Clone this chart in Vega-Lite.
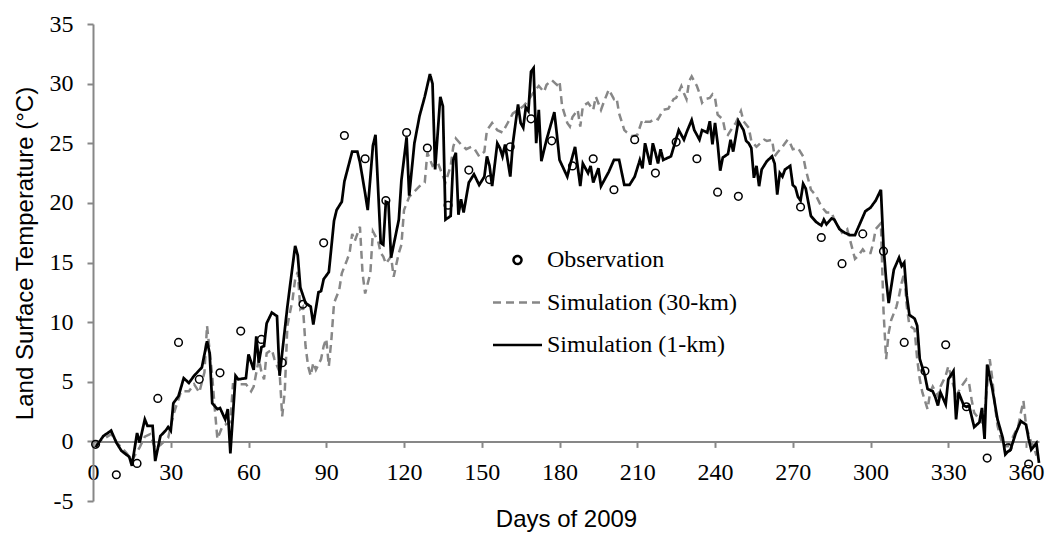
{
"$schema": "https://vega.github.io/schema/vega-lite/v6.json",
"width": 946, "height": 477,
"autosize": {"type": "none"},
"padding": {"left": 93, "top": 24, "right": 8, "bottom": 32},
"background": "white",
"config": {"view": {"stroke": null},
  "legend": {"orient": "none", "legendX": 398.5, "legendY": 224, "title": null, "padding": 0,
       "labelFont": "Liberation Serif", "labelFontSize": 24, "labelColor": "black", "labelOffset": 3.5, "labelLimit": 0,
       "symbolSize": 2401, "symbolStrokeWidth": 2.5, "symbolFillColor": "transparent", "clipHeight": 24, "rowPadding": 18.5}},
"datasets": {
"obs": [{"d":1,"t":-0.25},{"d":9,"t":-2.8},{"d":17,"t":-1.85},{"d":25,"t":3.6},{"d":33,"t":8.3},{"d":41,"t":5.2},{"d":49,"t":5.75},{"d":57,"t":9.25},{"d":65,"t":8.55},{"d":73,"t":6.6},{"d":81,"t":11.5},{"d":89,"t":16.65},{"d":97,"t":25.65},{"d":105,"t":23.7},{"d":113,"t":20.2},{"d":121,"t":25.9},{"d":129,"t":24.6},{"d":137,"t":19.8},{"d":145,"t":22.75},{"d":153,"t":21.95},{"d":161,"t":24.7},{"d":169,"t":27.05},{"d":177,"t":25.2},{"d":185,"t":23.1},{"d":193,"t":23.7},{"d":201,"t":21.1},{"d":209,"t":25.3},{"d":217,"t":22.5},{"d":225,"t":25.1},{"d":233,"t":23.7},{"d":241,"t":20.9},{"d":249,"t":20.55},{"d":273,"t":19.65},{"d":281,"t":17.1},{"d":289,"t":14.9},{"d":297,"t":17.4},{"d":305,"t":15.95},{"d":313,"t":8.3},{"d":321,"t":5.9},{"d":329,"t":8.1},{"d":337,"t":2.9},{"d":345,"t":-1.4},{"d":353,"t":-0.55},{"d":361,"t":-1.9}],
"km30": [{"d":1,"t":-0.3},{"d":4,"t":0.2},{"d":7,"t":0.6},{"d":10,"t":-0.3},{"d":13,"t":-1.0},{"d":15,"t":-1.6},{"d":18,"t":-0.5},{"d":20,"t":0.4},{"d":22,"t":0.6},{"d":24,"t":-0.6},{"d":26,"t":-0.3},{"d":28,"t":0.1},{"d":29,"t":0.3},{"d":31,"t":2.2},{"d":32,"t":2.9},{"d":34,"t":4.2},{"d":37,"t":4.2},{"d":39,"t":4.8},{"d":41,"t":4.1},{"d":43,"t":5.8},{"d":44,"t":9.7},{"d":46,"t":5.5},{"d":47,"t":2.7},{"d":48,"t":0.2},{"d":50,"t":1.3},{"d":53,"t":1.6},{"d":54,"t":4.8},{"d":57,"t":4.8},{"d":59,"t":4.8},{"d":60,"t":4.5},{"d":61,"t":4.2},{"d":62,"t":4.6},{"d":64,"t":6.9},{"d":65,"t":5.8},{"d":66,"t":5.2},{"d":67,"t":7.4},{"d":69,"t":7.7},{"d":70,"t":6.9},{"d":72,"t":5.8},{"d":73,"t":2.1},{"d":74,"t":4.2},{"d":75,"t":9.7},{"d":77,"t":11.9},{"d":78,"t":13.6},{"d":79,"t":14.2},{"d":80,"t":11.1},{"d":81,"t":11.3},{"d":82,"t":8.0},{"d":83,"t":6.3},{"d":84,"t":5.5},{"d":85,"t":6.6},{"d":86,"t":6.0},{"d":88,"t":6.9},{"d":89,"t":8.0},{"d":90,"t":8.6},{"d":91,"t":6.3},{"d":92,"t":8.6},{"d":93,"t":11.6},{"d":95,"t":12.7},{"d":96,"t":14.1},{"d":98,"t":15.2},{"d":99,"t":15.8},{"d":100,"t":17.4},{"d":101,"t":16.8},{"d":102,"t":17.4},{"d":103,"t":18.0},{"d":104,"t":14.1},{"d":105,"t":12.4},{"d":107,"t":14.1},{"d":108,"t":17.6},{"d":110,"t":16.8},{"d":111,"t":15.8},{"d":112,"t":15.5},{"d":113,"t":14.9},{"d":115,"t":15.5},{"d":116,"t":13.8},{"d":118,"t":15.8},{"d":119,"t":16.5},{"d":120,"t":19.4},{"d":122,"t":20.5},{"d":126,"t":21.4},{"d":128,"t":21.7},{"d":129,"t":24.2},{"d":131,"t":23.1},{"d":133,"t":23.4},{"d":136,"t":21.7},{"d":138,"t":23.1},{"d":139,"t":24.7},{"d":140,"t":25.4},{"d":142,"t":24.9},{"d":144,"t":24.5},{"d":146,"t":24.7},{"d":147,"t":24.6},{"d":149,"t":23.9},{"d":151,"t":24.3},{"d":152,"t":26.1},{"d":154,"t":26.7},{"d":156,"t":26.1},{"d":158,"t":25.9},{"d":160,"t":26.7},{"d":162,"t":27.5},{"d":164,"t":27.8},{"d":166,"t":28.1},{"d":168,"t":28.6},{"d":170,"t":29.3},{"d":172,"t":29.8},{"d":174,"t":29.3},{"d":175,"t":29.9},{"d":177,"t":30.3},{"d":179,"t":29.9},{"d":180,"t":30.2},{"d":181,"t":28.1},{"d":183,"t":26.7},{"d":184,"t":26.4},{"d":185,"t":27.2},{"d":187,"t":27.8},{"d":188,"t":26.4},{"d":189,"t":28.1},{"d":191,"t":28.4},{"d":193,"t":27.8},{"d":194,"t":28.9},{"d":196,"t":27.8},{"d":197,"t":28.4},{"d":199,"t":29.5},{"d":201,"t":28.7},{"d":202,"t":28.8},{"d":203,"t":27.5},{"d":205,"t":26.1},{"d":206,"t":25.9},{"d":208,"t":25.6},{"d":210,"t":25.7},{"d":212,"t":27.0},{"d":213,"t":26.8},{"d":215,"t":26.8},{"d":217,"t":27.1},{"d":218,"t":27.0},{"d":220,"t":27.8},{"d":222,"t":27.9},{"d":224,"t":28.7},{"d":225,"t":28.8},{"d":227,"t":29.8},{"d":228,"t":29.2},{"d":229,"t":28.7},{"d":230,"t":30.2},{"d":231,"t":30.6},{"d":233,"t":29.8},{"d":234,"t":29.2},{"d":235,"t":28.4},{"d":236,"t":28.7},{"d":238,"t":28.8},{"d":239,"t":29.1},{"d":240,"t":28.8},{"d":241,"t":27.4},{"d":243,"t":27.0},{"d":244,"t":25.9},{"d":245,"t":25.7},{"d":247,"t":26.4},{"d":248,"t":26.7},{"d":250,"t":27.7},{"d":251,"t":26.85},{"d":253,"t":26.3},{"d":254,"t":25.2},{"d":256,"t":24.7},{"d":257,"t":24.9},{"d":259,"t":25.3},{"d":260,"t":25.2},{"d":262,"t":25.3},{"d":263,"t":23.9},{"d":264,"t":24.2},{"d":266,"t":24.7},{"d":268,"t":25.3},{"d":269,"t":25.0},{"d":270,"t":24.5},{"d":272,"t":24.6},{"d":274,"t":23.9},{"d":275,"t":22.8},{"d":277,"t":21.1},{"d":279,"t":20.6},{"d":281,"t":19.7},{"d":283,"t":19.2},{"d":285,"t":19.2},{"d":286,"t":18.6},{"d":289,"t":17.5},{"d":291,"t":17.8},{"d":294,"t":15.3},{"d":295,"t":15.5},{"d":297,"t":16.1},{"d":298,"t":15.8},{"d":300,"t":15.8},{"d":301,"t":16.6},{"d":302,"t":17.8},{"d":304,"t":18.3},{"d":305,"t":11.0},{"d":306,"t":6.9},{"d":307,"t":9.1},{"d":308,"t":10.2},{"d":310,"t":11.3},{"d":311,"t":12.2},{"d":312,"t":13.3},{"d":313,"t":14.1},{"d":314,"t":11.3},{"d":315,"t":9.7},{"d":317,"t":9.4},{"d":318,"t":6.9},{"d":319,"t":5.2},{"d":320,"t":4.1},{"d":322,"t":2.7},{"d":323,"t":4.1},{"d":324,"t":4.6},{"d":326,"t":3.8},{"d":327,"t":4.6},{"d":329,"t":5.5},{"d":330,"t":6.3},{"d":331,"t":5.5},{"d":333,"t":3.8},{"d":335,"t":4.6},{"d":337,"t":5.2},{"d":338,"t":4.9},{"d":339,"t":3.5},{"d":340,"t":2.4},{"d":342,"t":1.84},{"d":343,"t":1.6},{"d":344,"t":2.4},{"d":346,"t":6.9},{"d":347,"t":5.2},{"d":348,"t":3.0},{"d":349,"t":1.3},{"d":351,"t":-0.4},{"d":353,"t":-0.4},{"d":355,"t":0.4},{"d":357,"t":1.3},{"d":358,"t":2.4},{"d":359,"t":3.4},{"d":360,"t":1.3},{"d":362,"t":-0.1},{"d":363,"t":-0.4},{"d":364,"t":-1.2}],
"km1": [{"d":1,"t":-0.5},{"d":4,"t":0.45},{"d":7,"t":0.9},{"d":9,"t":-0.1},{"d":11,"t":-0.8},{"d":14,"t":-1.3},{"d":15,"t":-2.05},{"d":17,"t":0.7},{"d":18,"t":-0.1},{"d":20,"t":1.85},{"d":21,"t":1.3},{"d":23,"t":1.3},{"d":24,"t":-1.65},{"d":26,"t":0.45},{"d":28,"t":0.9},{"d":29,"t":1.2},{"d":30,"t":0.9},{"d":31,"t":3.2},{"d":33,"t":3.8},{"d":35,"t":5.3},{"d":37,"t":4.9},{"d":39,"t":5.5},{"d":42,"t":6.2},{"d":44,"t":8.4},{"d":45,"t":7.4},{"d":46,"t":3.2},{"d":48,"t":2.7},{"d":49,"t":2.8},{"d":51,"t":1.85},{"d":52,"t":2.7},{"d":53,"t":-1.0},{"d":55,"t":5.5},{"d":56,"t":5.2},{"d":59,"t":5.3},{"d":60,"t":7.3},{"d":62,"t":6.0},{"d":63,"t":8.8},{"d":64,"t":6.6},{"d":65,"t":7.9},{"d":66,"t":8.0},{"d":67,"t":9.9},{"d":69,"t":10.8},{"d":71,"t":10.5},{"d":72,"t":5.5},{"d":75,"t":11.3},{"d":78,"t":16.4},{"d":79,"t":15.6},{"d":80,"t":12.9},{"d":82,"t":11.6},{"d":84,"t":11.3},{"d":85,"t":9.8},{"d":87,"t":12.5},{"d":88,"t":12.6},{"d":89,"t":13.6},{"d":91,"t":14.2},{"d":93,"t":18.5},{"d":94,"t":19.4},{"d":96,"t":20.1},{"d":97,"t":21.8},{"d":100,"t":24.3},{"d":102,"t":24.3},{"d":103,"t":23.4},{"d":105,"t":20.8},{"d":106,"t":19.4},{"d":108,"t":24.8},{"d":109,"t":25.7},{"d":111,"t":16.65},{"d":112,"t":16.5},{"d":113,"t":20.1},{"d":114,"t":20.0},{"d":115,"t":15.4},{"d":118,"t":18.6},{"d":119,"t":21.9},{"d":121,"t":25.5},{"d":122,"t":20.6},{"d":124,"t":25.0},{"d":126,"t":27.3},{"d":128,"t":28.9},{"d":130,"t":30.8},{"d":131,"t":30.0},{"d":132,"t":22.8},{"d":134,"t":28.9},{"d":135,"t":28.1},{"d":136,"t":18.6},{"d":138,"t":18.9},{"d":139,"t":23.6},{"d":140,"t":24.2},{"d":141,"t":19.0},{"d":142,"t":20.3},{"d":143,"t":19.2},{"d":145,"t":21.7},{"d":147,"t":22.4},{"d":149,"t":21.5},{"d":151,"t":22.2},{"d":152,"t":23.9},{"d":153,"t":23.1},{"d":154,"t":21.4},{"d":156,"t":25.0},{"d":157,"t":24.6},{"d":158,"t":23.9},{"d":159,"t":24.9},{"d":161,"t":22.2},{"d":162,"t":25.0},{"d":164,"t":28.25},{"d":165,"t":26.7},{"d":166,"t":26.3},{"d":167,"t":28.0},{"d":168,"t":27.7},{"d":169,"t":31.0},{"d":170,"t":31.3},{"d":171,"t":25.0},{"d":172,"t":27.8},{"d":173,"t":23.5},{"d":175,"t":25.3},{"d":178,"t":27.6},{"d":179,"t":25.7},{"d":180,"t":23.6},{"d":183,"t":22.2},{"d":184,"t":23.1},{"d":186,"t":24.7},{"d":188,"t":21.4},{"d":189,"t":23.3},{"d":191,"t":22.5},{"d":192,"t":23.1},{"d":193,"t":21.7},{"d":195,"t":22.9},{"d":196,"t":21.4},{"d":199,"t":22.6},{"d":201,"t":23.6},{"d":203,"t":23.6},{"d":205,"t":21.5},{"d":207,"t":21.5},{"d":209,"t":22.2},{"d":211,"t":23.6},{"d":212,"t":22.9},{"d":213,"t":25.0},{"d":215,"t":23.2},{"d":216,"t":25.0},{"d":217,"t":24.2},{"d":218,"t":23.3},{"d":219,"t":24.5},{"d":220,"t":23.6},{"d":223,"t":23.9},{"d":226,"t":26.1},{"d":228,"t":25.3},{"d":229,"t":25.9},{"d":231,"t":26.95},{"d":232,"t":26.1},{"d":234,"t":25.3},{"d":235,"t":26.1},{"d":237,"t":25.9},{"d":238,"t":26.85},{"d":239,"t":24.9},{"d":240,"t":26.7},{"d":241,"t":25.0},{"d":242,"t":22.7},{"d":243,"t":23.8},{"d":245,"t":24.1},{"d":246,"t":25.3},{"d":247,"t":24.3},{"d":249,"t":26.85},{"d":251,"t":26.1},{"d":252,"t":25.2},{"d":253,"t":25.0},{"d":254,"t":24.6},{"d":255,"t":22.1},{"d":256,"t":23.1},{"d":257,"t":21.4},{"d":258,"t":22.8},{"d":260,"t":23.5},{"d":262,"t":23.9},{"d":263,"t":23.3},{"d":264,"t":20.7},{"d":265,"t":22.5},{"d":266,"t":22.2},{"d":267,"t":22.8},{"d":269,"t":23.1},{"d":270,"t":21.5},{"d":271,"t":21.3},{"d":272,"t":20.5},{"d":273,"t":20.2},{"d":274,"t":21.6},{"d":275,"t":21.2},{"d":277,"t":18.9},{"d":279,"t":18.4},{"d":281,"t":18.1},{"d":282,"t":18.6},{"d":283,"t":18.2},{"d":285,"t":18.7},{"d":286,"t":18.6},{"d":288,"t":17.8},{"d":290,"t":17.5},{"d":292,"t":17.3},{"d":294,"t":17.3},{"d":296,"t":18.3},{"d":298,"t":19.3},{"d":300,"t":19.6},{"d":302,"t":20.2},{"d":304,"t":21.1},{"d":305,"t":16.4},{"d":306,"t":13.6},{"d":307,"t":11.6},{"d":309,"t":14.4},{"d":310,"t":14.9},{"d":311,"t":15.4},{"d":312,"t":14.7},{"d":313,"t":15.0},{"d":314,"t":12.2},{"d":315,"t":10.6},{"d":317,"t":10.3},{"d":318,"t":9.7},{"d":319,"t":6.9},{"d":321,"t":5.5},{"d":322,"t":4.4},{"d":324,"t":4.2},{"d":325,"t":3.7},{"d":326,"t":3.0},{"d":327,"t":4.1},{"d":329,"t":3.1},{"d":330,"t":5.2},{"d":332,"t":5.9},{"d":333,"t":1.84},{"d":334,"t":4.1},{"d":336,"t":3.0},{"d":337,"t":2.9},{"d":338,"t":3.0},{"d":340,"t":1.2},{"d":342,"t":1.6},{"d":343,"t":2.8},{"d":344,"t":0.2},{"d":345,"t":6.45},{"d":347,"t":4.4},{"d":349,"t":1.84},{"d":351,"t":0.3},{"d":352,"t":-1.1},{"d":353,"t":-0.86},{"d":354,"t":-0.7},{"d":356,"t":0.67},{"d":358,"t":1.7},{"d":360,"t":1.4},{"d":361,"t":0.2},{"d":362,"t":-0.7},{"d":364,"t":-0.15},{"d":365,"t":-1.8}]
},
"encoding": {
  "x": {"field": "d", "type": "quantitative",
    "scale": {"domain": [0, 365], "nice": false, "zero": false},
    "axis": {"values": [0,30,60,90,120,150,180,210,240,270,300,330,360], "offset": -59.6,
      "grid": false, "domainColor": "#878787", "domainWidth": 2, "tickColor": "#878787", "tickWidth": 2, "tickSize": 6,
      "labelFont": "Liberation Serif", "labelFontSize": 24, "labelColor": "black", "labelPadding": 13,
      "labelFlush": false, "labelOverlap": false,
      "title": "Days of 2009", "titleFont": "Liberation Sans", "titleFontSize": 24, "titleFontWeight": "normal", "titleColor": "black", "titlePadding": 23}},
  "y": {"field": "t", "type": "quantitative",
    "scale": {"domain": [-5, 35], "nice": false, "zero": false},
    "axis": {"values": [-5,0,5,10,15,20,25,30,35],
      "grid": false, "domainColor": "#878787", "domainWidth": 2, "tickColor": "#878787", "tickWidth": 2, "tickSize": 6,
      "labelFont": "Liberation Serif", "labelFontSize": 24, "labelColor": "black", "labelPadding": 14,
      "labelOverlap": false,
      "labelExpr": "datum.value < 0 ? '-' + abs(datum.value) : datum.label",
      "title": "Land Surface Temperature (°C)", "titleFont": "Liberation Sans", "titleFontSize": 24, "titleFontWeight": "normal", "titleColor": "black", "titlePadding": 12, "titleY": 229}}
},
"layer": [
  {"data": {"name": "km30"},
   "mark": {"type": "line", "strokeWidth": 2.5},
   "encoding": {
     "color": {"datum": "Simulation (30-km)", "scale": {"domain": ["Observation", "Simulation (30-km)", "Simulation (1-km)"], "range": ["black", "#878787", "black"]}},
     "strokeDash": {"datum": "Simulation (30-km)", "scale": {"domain": ["Observation", "Simulation (30-km)", "Simulation (1-km)"], "range": [[1, 0], [8, 5], [1, 0]]}}}},
  {"data": {"name": "km1"},
   "mark": {"type": "line", "strokeWidth": 2.75},
   "encoding": {"color": {"datum": "Simulation (1-km)"}, "strokeDash": {"datum": "Simulation (1-km)"}}},
  {"data": {"name": "obs"},
   "mark": {"type": "point", "size": 2200, "filled": false, "strokeWidth": 1.5, "opacity": 1},
   "encoding": {"color": {"datum": "Observation"},
     "shape": {"datum": "Observation", "scale": {"domain": ["Observation", "Simulation (30-km)", "Simulation (1-km)"], "range": ["M0.163,0A0.163,0.163,0,1,1,-0.163,0A0.163,0.163,0,1,1,0.163,0Z", "stroke", "stroke"]}}}}
]
}
